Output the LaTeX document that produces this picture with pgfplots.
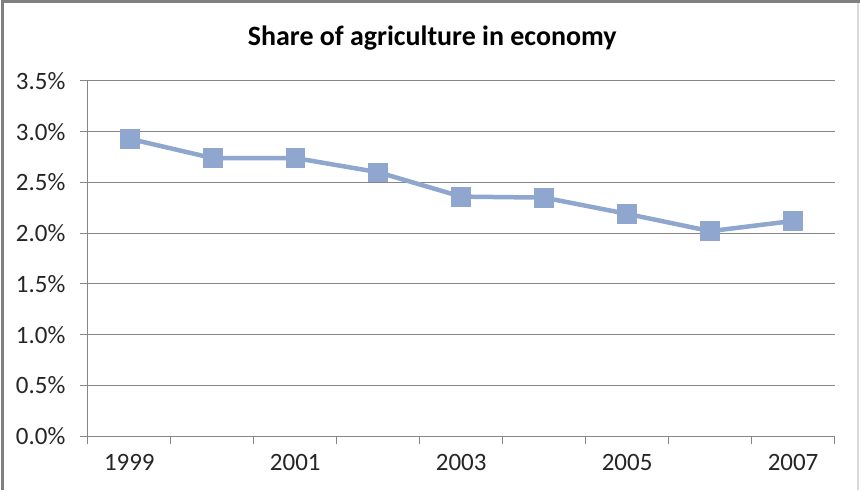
\documentclass[border=0pt]{standalone}
\usepackage{fontspec}
\setmainfont{Carlito}
\usepackage{pgfplots}
\pgfplotsset{compat=1.18}

\definecolor{seriesblue}{RGB}{143,166,207}
\definecolor{gridgray}{RGB}{134,134,134}
\definecolor{framegray}{RGB}{128,128,128}
\definecolor{edgegray}{RGB}{217,217,217}

\begin{document}
\begin{tikzpicture}[x=1pt,y=1pt]
  % canvas and chart frame
  \path[fill=white] (0,0) rectangle (861,491);
  \draw[framegray, line width=3pt] (3,0) -- (3,489.5) -- (861,489.5);
  \draw[edgegray, line width=1.5pt] (859.5,0) -- (859.5,488);

  \node[anchor=base, font=\fontsize{28}{33}\selectfont\bfseries]
    at (433,445) {Share of agriculture in economy};

  \begin{axis}[
    at={(88pt,54pt)}, anchor=south west,
    scale only axis, width=748pt, height=356pt,
    xmin=-0.5, xmax=8.5, ymin=0, ymax=3.5,
    axis lines*=left,
    axis line style={gridgray, line width=1pt},
    tick align=outside,
    major tick length=8pt,
    tick style={gridgray, line width=1pt},
    xtick={-0.5,0.5,...,8.5},
    xticklabels={},
    extra x ticks={0,2,4,6,8},
    extra x tick labels={1999,2001,2003,2005,2007},
    extra x tick style={major tick length=0pt, grid=none},
    ytick={0,0.5,...,3.5},
    ymajorgrids,
    grid style={gridgray, line width=1pt},
    yticklabel={\pgfmathprintnumber[fixed,fixed zerofill,precision=1]{\tick}\%},
    /pgf/number format/assume math mode=true,
    ticklabel style={font=\fontsize{25}{30}\selectfont, text=black!85},
    yticklabel style={xshift=-11pt},
    xticklabel style={yshift=-15pt},
    clip=false,
  ]
    \addplot[seriesblue, line width=4.5pt, mark=square*,
             mark size=9.5pt, mark options={fill=seriesblue, line width=0.5pt}]
      coordinates {
        (0,2.93) (1,2.74) (2,2.74) (3,2.60) (4,2.36)
        (5,2.35) (6,2.19) (7,2.02) (8,2.12)
      };
  \end{axis}
\end{tikzpicture}
\end{document}
